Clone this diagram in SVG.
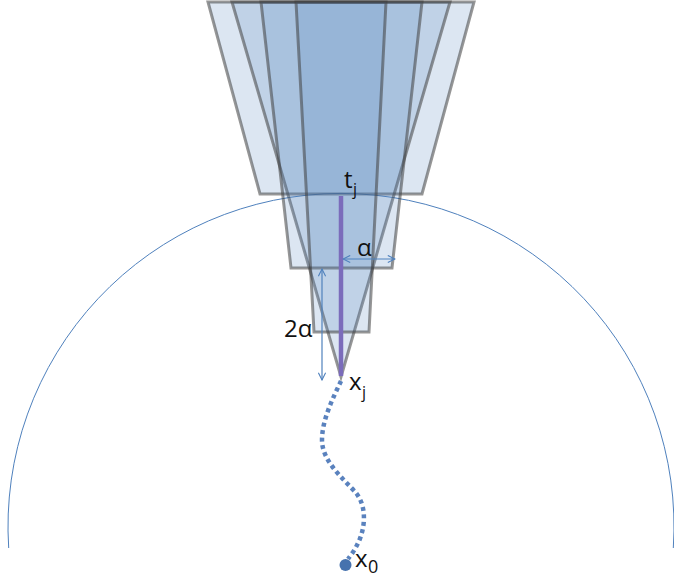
<svg xmlns="http://www.w3.org/2000/svg" width="674" height="580" viewBox="0 0 674 580">
  <style>
    .cone { fill: #4f81bd; fill-opacity: 0.2; stroke: #404040; stroke-opacity: 0.55; stroke-width: 3; stroke-linejoin: miter; }
    .lbl { font-family: "Open Sans", "Liberation Sans", sans-serif; fill: #111111; }
    .dim { stroke: #4f81bd; stroke-width: 1.2; fill: none; }
  </style>
  <defs>
    <marker id="vhead" viewBox="0 0 10 10" refX="9" refY="5" markerWidth="9" markerHeight="9" markerUnits="userSpaceOnUse" orient="auto-start-reverse">
      <path d="M1,1 L9,5 L1,9" fill="none" stroke="#4f81bd" stroke-width="1.2"/>
    </marker>
  </defs>
  <rect width="674" height="580" fill="#ffffff"/>
  <g id="arc">
    <path d="M8.7,548 A333,333 0 1 1 673.3,548" fill="none" stroke="#4f81bd" stroke-width="1"/>
  </g>
  <g id="cone-outer"><polygon class="cone" points="208,2 474,2 422,194 260,194"/></g>
  <g id="cone-triangle"><polygon class="cone" points="232,2 450,2 341,377"/></g>
  <g id="cone-medium"><polygon class="cone" points="261,2 422,2 392,268 291,268"/></g>
  <g id="cone-small"><polygon class="cone" points="296,2 386,2 369,332 314,332"/></g>
  <g id="connectors">
    <line x1="341" y1="196" x2="341" y2="376" stroke="#7b6cbb" stroke-width="4.5"/>
    <line class="dim" x1="343" y1="259" x2="395" y2="259" marker-start="url(#vhead)" marker-end="url(#vhead)"/>
    <line class="dim" x1="322" y1="269" x2="322" y2="380" marker-start="url(#vhead)" marker-end="url(#vhead)"/>
    <path d="M341,381 C333,398 322,420 322,440 C322,462 345,480 356,493 C366,505 366,525 359,541 C355,550 351,555 348,559" fill="none" stroke="#5a82be" stroke-width="4.5" stroke-dasharray="4 3.5"/>
  </g>
  <g id="x0-node">
    <circle cx="345.5" cy="565" r="6" fill="#4672ae"/>
  </g>
  <g id="labels">
    <text class="lbl" font-size="24" x="344" y="188">t<tspan font-size="16" x="353" y="195">j</tspan></text>
    <text class="lbl" font-size="24" x="357" y="256">α</text>
    <text class="lbl" font-size="24" x="284" y="337">2α</text>
    <text class="lbl" font-size="24" x="349" y="390">x<tspan font-size="16" x="362" y="398">j</tspan></text>
    <text class="lbl" font-size="24" x="355" y="567">x<tspan font-size="18" x="368" y="573">0</tspan></text>
  </g>
</svg>
